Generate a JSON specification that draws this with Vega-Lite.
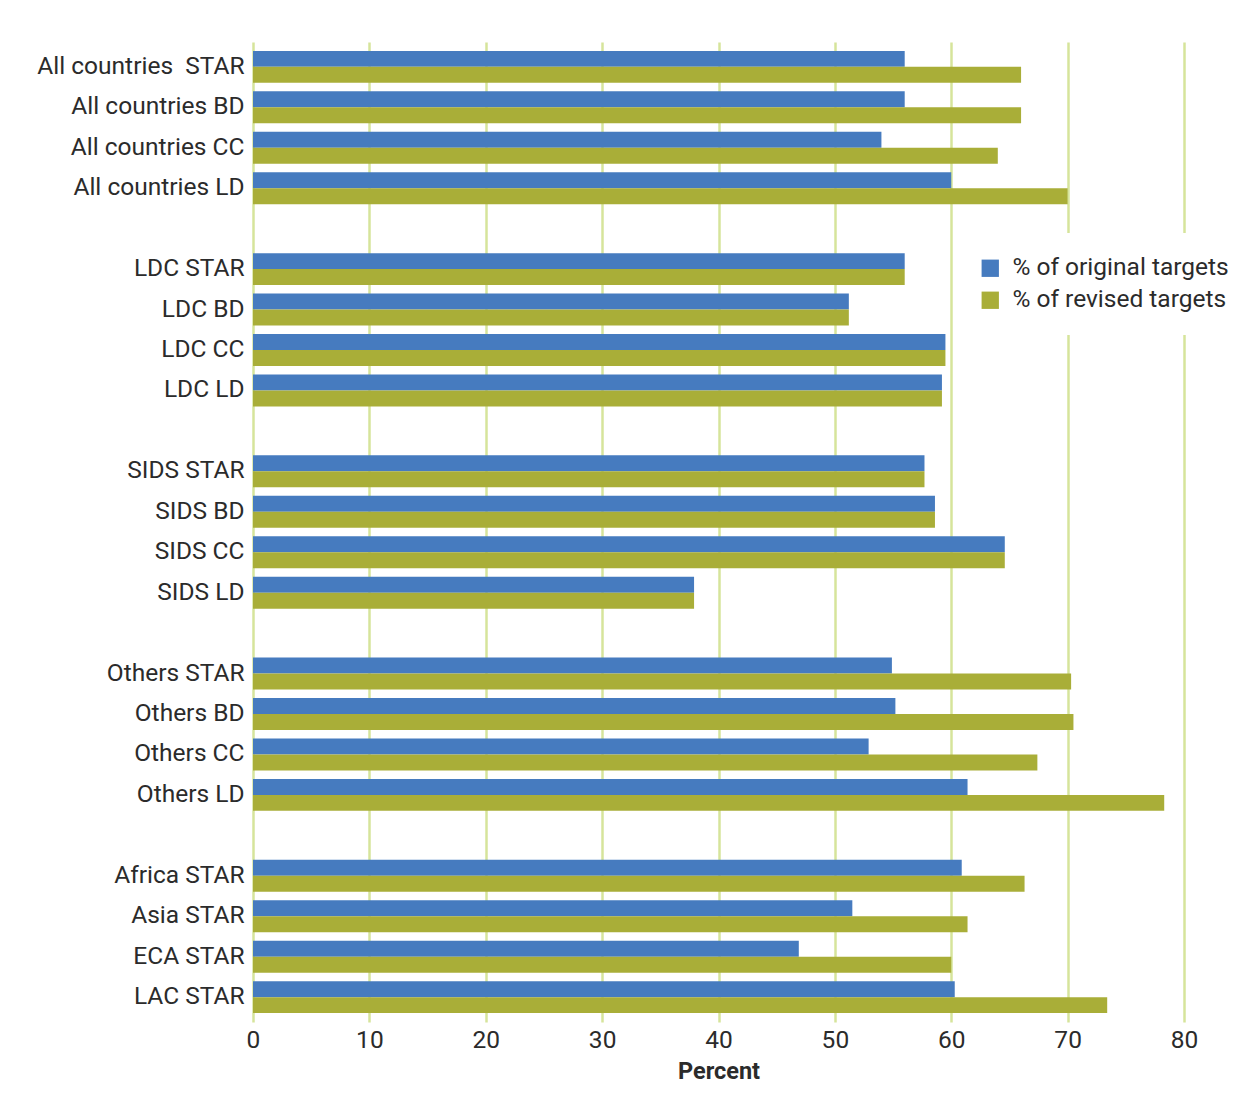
{
  "$schema": "https://vega.github.io/schema/vega-lite/v6.json",
  "width": 931,
  "height": 980,
  "padding": {"left": 6, "top": 42, "right": 5, "bottom": 5},
  "background": "white",
  "config": {
    "font": "Roboto",
    "view": {"stroke": null},
    "axis": {"labelColor": "#2b2b2b", "titleColor": "#2b2b2b"}
  },
  "data": {
    "values": [
      {"category": "All countries  STAR", "series": "% of original targets", "value": 56},
      {"category": "All countries  STAR", "series": "% of revised targets", "value": 66},
      {"category": "All countries BD", "series": "% of original targets", "value": 56},
      {"category": "All countries BD", "series": "% of revised targets", "value": 66},
      {"category": "All countries CC", "series": "% of original targets", "value": 54},
      {"category": "All countries CC", "series": "% of revised targets", "value": 64},
      {"category": "All countries LD", "series": "% of original targets", "value": 60},
      {"category": "All countries LD", "series": "% of revised targets", "value": 70},
      {"category": "LDC STAR", "series": "% of original targets", "value": 56},
      {"category": "LDC STAR", "series": "% of revised targets", "value": 56},
      {"category": "LDC BD", "series": "% of original targets", "value": 51.2},
      {"category": "LDC BD", "series": "% of revised targets", "value": 51.2},
      {"category": "LDC CC", "series": "% of original targets", "value": 59.5},
      {"category": "LDC CC", "series": "% of revised targets", "value": 59.5},
      {"category": "LDC LD", "series": "% of original targets", "value": 59.2},
      {"category": "LDC LD", "series": "% of revised targets", "value": 59.2},
      {"category": "SIDS STAR", "series": "% of original targets", "value": 57.7},
      {"category": "SIDS STAR", "series": "% of revised targets", "value": 57.7},
      {"category": "SIDS BD", "series": "% of original targets", "value": 58.6},
      {"category": "SIDS BD", "series": "% of revised targets", "value": 58.6},
      {"category": "SIDS CC", "series": "% of original targets", "value": 64.6},
      {"category": "SIDS CC", "series": "% of revised targets", "value": 64.6},
      {"category": "SIDS LD", "series": "% of original targets", "value": 37.9},
      {"category": "SIDS LD", "series": "% of revised targets", "value": 37.9},
      {"category": "Others STAR", "series": "% of original targets", "value": 54.9},
      {"category": "Others STAR", "series": "% of revised targets", "value": 70.3},
      {"category": "Others BD", "series": "% of original targets", "value": 55.2},
      {"category": "Others BD", "series": "% of revised targets", "value": 70.5},
      {"category": "Others CC", "series": "% of original targets", "value": 52.9},
      {"category": "Others CC", "series": "% of revised targets", "value": 67.4},
      {"category": "Others LD", "series": "% of original targets", "value": 61.4},
      {"category": "Others LD", "series": "% of revised targets", "value": 78.3},
      {"category": "Africa STAR", "series": "% of original targets", "value": 60.9},
      {"category": "Africa STAR", "series": "% of revised targets", "value": 66.3},
      {"category": "Asia STAR", "series": "% of original targets", "value": 51.5},
      {"category": "Asia STAR", "series": "% of revised targets", "value": 61.4},
      {"category": "ECA STAR", "series": "% of original targets", "value": 46.9},
      {"category": "ECA STAR", "series": "% of revised targets", "value": 60.0},
      {"category": "LAC STAR", "series": "% of original targets", "value": 60.3},
      {"category": "LAC STAR", "series": "% of revised targets", "value": 73.4}
    ]
  },
  "mark": {"type": "bar"},
  "encoding": {
    "y": {
      "field": "category",
      "type": "nominal",
      "sort": null,
      "scale": {
        "domain": [
          "All countries  STAR", "All countries BD", "All countries CC", "All countries LD", " ",
          "LDC STAR", "LDC BD", "LDC CC", "LDC LD", "  ",
          "SIDS STAR", "SIDS BD", "SIDS CC", "SIDS LD", "   ",
          "Others STAR", "Others BD", "Others CC", "Others LD", "    ",
          "Africa STAR", "Asia STAR", "ECA STAR", "LAC STAR"
        ],
        "paddingInner": 0.21,
        "paddingOuter": 0.22
      },
      "axis": {
        "title": null,
        "domain": false,
        "ticks": false,
        "grid": false,
        "labelFontSize": 24.5,
        "labelPadding": 9,
        "labelLimit": 400,
        "labelExpr": "replace(datum.label, '  S', '\u00a0 S')",
        "minExtent": 247,
        "maxExtent": 247
      }
    },
    "yOffset": {
      "field": "series",
      "type": "nominal",
      "scale": {"domain": ["% of original targets", "% of revised targets"], "paddingInner": 0, "paddingOuter": 0}
    },
    "x": {
      "field": "value",
      "type": "quantitative",
      "scale": {"domain": [0, 80], "nice": false},
      "axis": {
        "title": "Percent",
        "values": [0, 10, 20, 30, 40, 50, 60, 70, 80],
        "domain": false,
        "ticks": false,
        "grid": true,
        "gridColor": "#d6e49b",
        "gridWidth": 2.5,
        "gridOpacity": 1,
        "labelFontSize": 24.5,
        "labelFlush": false,
        "labelPadding": 6,
        "titleFontSize": 23.5,
        "titleFontWeight": "bold",
        "titlePadding": 8
      }
    },
    "color": {
      "field": "series",
      "type": "nominal",
      "scale": {"domain": ["% of original targets", "% of revised targets"], "range": ["#467bbf", "#a9ae38"]},
      "legend": {
        "title": null,
        "orient": "none",
        "legendX": 702,
        "legendY": 191,
        "padding": 23,
        "fillColor": "white",
        "symbolType": "square",
        "symbolSize": 300,
        "symbolStrokeWidth": 0,
        "labelFontSize": 24.5,
        "labelColor": "#2b2b2b",
        "labelOffset": 10,
        "rowPadding": 7,
        "labelLimit": 400
      }
    }
  }
}
